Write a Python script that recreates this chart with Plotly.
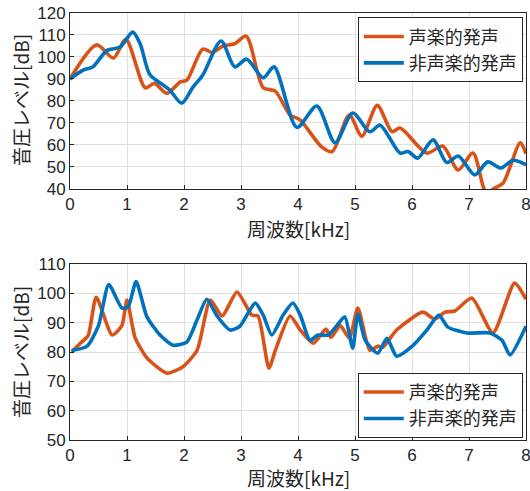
import plotly.graph_objects as go

# Top panel
top_voc_x = [0, 0.47, 0.76, 0.98, 1.32, 1.48, 1.7, 1.93, 2.05, 2.33, 2.5, 2.68, 2.89, 3.09, 3.39, 3.6, 3.86, 4.03, 4.42, 4.6, 4.9, 5.12, 5.39, 5.65, 5.79, 6.26, 6.54, 6.81, 7.07, 7.3, 7.46, 7.6, 7.9, 8.0]
top_voc_y = [90, 105.5, 99.5, 108, 86, 88, 83.5, 88.6, 89.5, 103.6, 102, 105, 106, 109.5, 86, 84.5, 73.6, 71.5, 59, 57, 73.6, 64, 78, 66, 67.7, 56.3, 59.5, 48.6, 56.3, 38.5, 40.5, 42.7, 61, 56]
top_non_x = [0, 0.23, 0.4, 0.65, 0.88, 1.1, 1.23, 1.4, 1.63, 1.75, 1.96, 2.16, 2.33, 2.65, 2.89, 3.1, 3.39, 3.58, 3.98, 4.33, 4.65, 4.96, 5.26, 5.44, 5.79, 5.93, 6.1, 6.37, 6.61, 6.81, 7.1, 7.33, 7.56, 7.77, 8.0]
top_non_y = [90, 94, 95.5, 103, 104.5, 111.3, 106, 92, 87.3, 85, 79, 86.4, 91.8, 107.3, 95.5, 99, 90.5, 95.5, 68, 77.7, 61, 74.5, 66, 69, 56.3, 57, 54, 62.3, 52, 55, 46.4, 52.3, 49.5, 53, 51]

# Bottom panel
bot_voc_x = [0.03, 0.18, 0.32, 0.46, 0.74, 0.91, 1.0, 1.14, 1.35, 1.7, 1.98, 2.23, 2.46, 2.67, 2.93, 3.19, 3.3, 3.49, 3.61, 3.86, 4.04, 4.27, 4.49, 4.58, 4.74, 4.9, 5.05, 5.26, 5.4, 5.49, 5.73, 6.19, 6.4, 6.58, 6.75, 7.05, 7.42, 7.8, 8.0]
bot_voc_y = [80, 83, 85.7, 98.7, 85.8, 89, 97.7, 85, 78, 72.8, 75, 80.6, 97.7, 92.3, 100.5, 92.6, 92.3, 74.5, 81, 92.3, 87.5, 83, 87.8, 85, 89, 84.7, 95, 80.6, 82, 81.7, 87.5, 93.6, 91.2, 93.6, 94, 98.4, 86.5, 103.5, 98]
bot_non_x = [0.03, 0.3, 0.5, 0.68, 0.91, 1.02, 1.16, 1.35, 1.58, 1.81, 2.05, 2.23, 2.4, 2.58, 2.81, 2.98, 3.25, 3.39, 3.54, 3.74, 3.91, 4.04, 4.21, 4.35, 4.53, 4.68, 4.82, 4.96, 5.05, 5.18, 5.4, 5.56, 5.73, 6.02, 6.26, 6.47, 6.63, 6.96, 7.37, 7.58, 7.72, 8.0]
bot_non_y = [80.5, 82, 89, 103, 95, 95.4, 104, 92, 85.8, 82.3, 83.4, 91, 98, 92.3, 87.5, 88.8, 96.7, 92.6, 85.8, 92.6, 96.7, 92.6, 84, 85.8, 85.8, 89, 92, 81.3, 93, 84, 79.6, 84.7, 78.6, 82.3, 87.5, 92.6, 88.5, 86.5, 86.5, 84, 79, 88.8]

names = ["声楽的発声", "非声楽的発声"]
x_title = "周波数[kHz]"
y_title = "音圧レベル[dB]"
tick_x = [0, 1, 2, 3, 4, 5, 6, 7, 8]
top_ticks = [40, 50, 60, 70, 80, 90, 100, 110, 120]
bot_ticks = [50, 60, 70, 80, 90, 100, 110]

ORANGE = "#D95319"
BLUE = "#0072BD"
FONT = "Noto Sans CJK JP"
NUMFONT = "Liberation Sans"
TXT = "#262626"

fig = go.Figure()
lw = 3.6
fig.add_trace(go.Scatter(x=top_voc_x, y=top_voc_y, mode="lines", name=names[0],
                         line=dict(color=ORANGE, width=lw, shape="spline", smoothing=0.8),
                         xaxis="x", yaxis="y", legend="legend"))
fig.add_trace(go.Scatter(x=top_non_x, y=top_non_y, mode="lines", name=names[1],
                         line=dict(color=BLUE, width=lw, shape="spline", smoothing=0.8),
                         xaxis="x", yaxis="y", legend="legend"))
fig.add_trace(go.Scatter(x=bot_voc_x, y=bot_voc_y, mode="lines", name=names[0],
                         line=dict(color=ORANGE, width=lw, shape="spline", smoothing=0.6),
                         xaxis="x2", yaxis="y2", legend="legend2"))
fig.add_trace(go.Scatter(x=bot_non_x, y=bot_non_y, mode="lines", name=names[1],
                         line=dict(color=BLUE, width=lw, shape="spline", smoothing=0.6),
                         xaxis="x2", yaxis="y2", legend="legend2"))

axis_common = dict(showline=True, linecolor=TXT, linewidth=1, mirror=True,
                   showgrid=True, gridcolor="#DFDFDF", gridwidth=1,
                   ticks="inside", ticklen=4, tickcolor=TXT, automargin=False,
                   ticklabeloverflow="allow",
                   tickfont=dict(family=NUMFONT, size=17, color=TXT), zeroline=False)

fig.update_layout(
    width=530, height=491,
    margin=dict(l=70, r=4, t=13, b=51),
    paper_bgcolor="white", plot_bgcolor="white",
    font=dict(family=FONT, color=TXT),
    xaxis=dict(domain=[0, 1], range=[0, 8], tickvals=tick_x, anchor="y", **axis_common),
    yaxis=dict(domain=[0.588, 1], range=[40, 120], tickvals=top_ticks, anchor="x", **axis_common),
    xaxis2=dict(domain=[0, 1], range=[0, 8], tickvals=tick_x, anchor="y2", **axis_common),
    yaxis2=dict(domain=[0, 0.412], range=[50, 110], tickvals=bot_ticks, anchor="x2", **axis_common),
    legend=dict(x=0.993, y=0.99, xanchor="right", yanchor="top", bgcolor="white",
                bordercolor=TXT, borderwidth=1, font=dict(family=FONT, size=18, color=TXT),
                itemwidth=40, tracegroupgap=0),
    legend2=dict(x=0.993, y=0.005, xanchor="right", yanchor="bottom", bgcolor="white",
                 bordercolor=TXT, borderwidth=1, font=dict(family=FONT, size=18, color=TXT),
                 itemwidth=40, tracegroupgap=0),
)

title_font = dict(family=FONT, size=19, color=TXT)
fig.add_annotation(text=x_title, xref="paper", yref="paper", x=0.5, y=(440 - 228) / 427,
                   xanchor="center", yanchor="middle", showarrow=False, font=title_font)
fig.add_annotation(text=x_title, xref="paper", yref="paper", x=0.5, y=(440 - 477) / 427,
                   xanchor="center", yanchor="middle", showarrow=False, font=title_font)
fig.add_annotation(text=y_title, xref="paper", yref="paper", x=(20 - 70) / 456, y=(440 - 100) / 427,
                   xanchor="center", yanchor="middle", showarrow=False, textangle=-90, font=title_font)
fig.add_annotation(text=y_title, xref="paper", yref="paper", x=(20 - 70) / 456, y=(440 - 352) / 427,
                   xanchor="center", yanchor="middle", showarrow=False, textangle=-90, font=title_font)

# remove the browser's default page margin so the figure fills the 530x491 window
fig.write_html("out.html", config={"displayModeBar": False},
               post_script="document.body.style.margin='0';document.body.style.overflow='hidden';")
